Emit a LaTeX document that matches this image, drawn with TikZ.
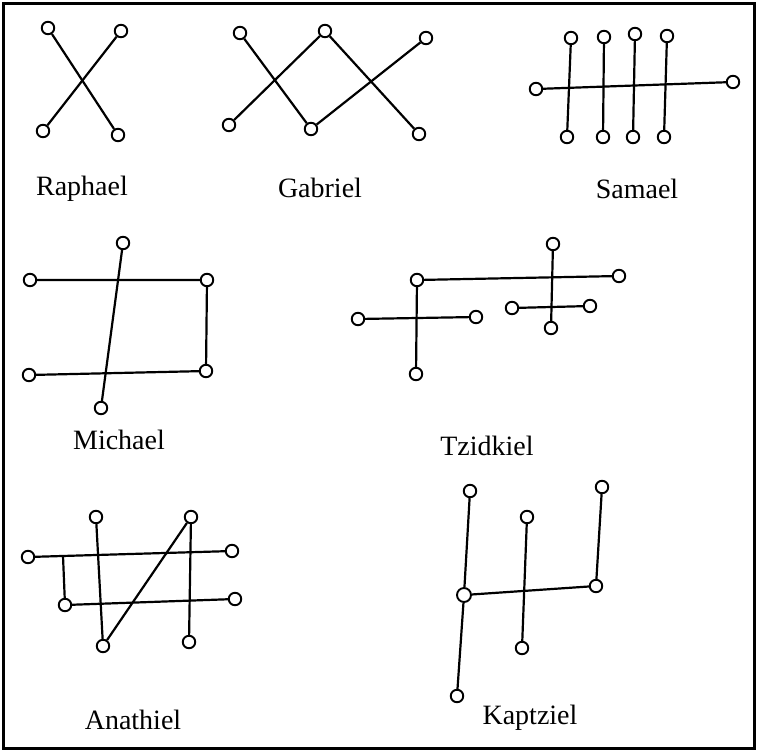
\documentclass[tikz,border=0pt]{standalone}
\usepackage{fontspec}
\setmainfont{Liberation Serif}
\begin{document}
\begin{tikzpicture}[x=1pt,y=-1pt,
  pt/.style={circle,draw,line width=1.9pt,fill=white,inner sep=0pt,minimum size=12.5pt},
  ln/.style={line width=2.2pt},
  lbl/.style={font=\fontsize{28}{32}\selectfont}]
\useasboundingbox (0,0) rectangle (759,753);
\draw[line width=3pt] (3,3) rectangle (754,748);
% Raphael
\node[pt] (ra1) at (48,28) {};
\node[pt] (ra2) at (121,31) {};
\node[pt] (ra3) at (43,131) {};
\node[pt] (ra4) at (118,135) {};
\draw[ln] (ra1) -- (ra4);
\draw[ln] (ra2) -- (ra3);
\node[lbl] (raL) at (82,189) {Raphael};
% Gabriel
\node[pt] (ga1) at (240,33) {};
\node[pt] (ga2) at (325,31) {};
\node[pt] (ga3) at (426,38) {};
\node[pt] (ga4) at (229,125) {};
\node[pt] (ga5) at (311,129) {};
\node[pt] (ga6) at (419,134) {};
\draw[ln] (ga1) -- (ga5);
\draw[ln] (ga4) -- (ga2);
\draw[ln] (ga2) -- (ga6);
\draw[ln] (ga5) -- (ga3);
\node[lbl] (gaL) at (320,188) {Gabriel};
% Samael
\node[pt] (sa1) at (571,38) {};
\node[pt] (sa2) at (604,37) {};
\node[pt] (sa3) at (635,34) {};
\node[pt] (sa4) at (667,36) {};
\node[pt] (sb1) at (567,137) {};
\node[pt] (sb2) at (603,137) {};
\node[pt] (sb3) at (633,137) {};
\node[pt] (sb4) at (664,137) {};
\node[pt] (sl) at (536,89) {};
\node[pt] (sr) at (733,82) {};
\draw[ln] (sl) -- (sr);
\draw[ln] (sa1) -- (sb1);
\draw[ln] (sa2) -- (sb2);
\draw[ln] (sa3) -- (sb3);
\draw[ln] (sa4) -- (sb4);
\node[lbl] (saL) at (637,189) {Samael};
% Michael
\node[pt] (mi1) at (123,243) {};
\node[pt] (mi2) at (30,280) {};
\node[pt] (mi3) at (207,280) {};
\node[pt] (mi4) at (29,375) {};
\node[pt] (mi5) at (206,371) {};
\node[pt] (mi6) at (101,408) {};
\draw[ln] (mi2) -- (mi3) -- (mi5) -- (mi4);
\draw[ln] (mi1) -- (mi6);
\node[lbl] (miL) at (119,440) {Michael};
% Tzidkiel
\node[pt] (tz1) at (417,280) {};
\node[pt] (tz2) at (358,319) {};
\node[pt] (tz3) at (476,317) {};
\node[pt] (tz4) at (416,374) {};
\node[pt] (tz5) at (553,244) {};
\node[pt] (tz6) at (619,276) {};
\node[pt] (tz7) at (512,308) {};
\node[pt] (tz8) at (590,306) {};
\node[pt] (tz9) at (551,328) {};
\draw[ln] (tz1) -- (tz6);
\draw[ln] (tz1) -- (tz4);
\draw[ln] (tz2) -- (tz3);
\draw[ln] (tz5) -- (tz9);
\draw[ln] (tz7) -- (tz8);
\node[lbl] (tzL) at (487,446) {Tzidkiel};
% Anathiel
\node[pt] (an1) at (28,557) {};
\node[pt] (an2) at (96,517) {};
\node[pt] (an3) at (191,517) {};
\node[pt] (an4) at (232,551) {};
\node[pt] (an5) at (65,605) {};
\node[pt] (an6) at (235,599) {};
\node[pt] (an7) at (103,646) {};
\node[pt] (an8) at (189,642) {};
\coordinate (anc) at (63,556);
\draw[ln] (an1) -- (an4);
\draw[ln] (an5) -- (an6);
\draw[ln] (anc) -- (an5);
\draw[ln] (an2) -- (an7);
\draw[ln] (an7) -- (an3);
\draw[ln] (an3) -- (an8);
\node[lbl] (anL) at (133,720) {Anathiel};
% Kaptziel
\node[pt] (ka1) at (470,491) {};
\node[pt] (ka2) at (527,517) {};
\node[pt] (ka3) at (602,487) {};
\node[pt,minimum size=14pt] (ka4) at (464,595) {};
\node[pt] (ka5) at (596,586) {};
\node[pt] (ka6) at (522,648) {};
\node[pt] (ka7) at (457,696) {};
\draw[ln] (ka1) -- (ka4);
\draw[ln] (ka4) -- (ka7);
\draw[ln] (ka4) -- (ka5);
\draw[ln] (ka5) -- (ka3);
\draw[ln] (ka2) -- (ka6);
\node[lbl] (kaL) at (530,718) {Kaptziel};
\end{tikzpicture}
\end{document}
